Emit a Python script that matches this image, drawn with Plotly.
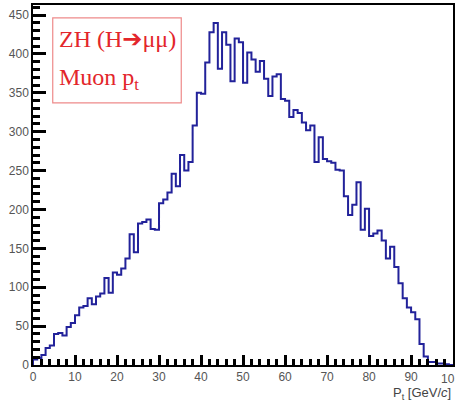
import plotly.graph_objects as go

# Muon transverse momentum histogram, 1 GeV/c bins from 0 to 100
bin_low = 0
bin_width = 1
counts = [
    7, 9, 13, 22, 25, 40, 41, 38, 49, 54,
    64, 74, 76, 86, 78, 88, 92, 112, 93, 119,
    116, 124, 137, 168, 145, 182, 184, 187, 175, 174,
    208, 213, 222, 246, 230, 270, 250, 261, 308, 350,
    349, 389, 428, 440, 381, 428, 412, 365, 420, 415,
    363, 402, 393, 377, 391, 368, 346, 371, 374, 342,
    340, 319, 328, 324, 312, 302, 308, 261, 293, 265,
    262, 260, 251, 250, 217, 193, 206, 235, 174, 201,
    166, 169, 173, 160, 137, 152, 126, 105, 86, 74,
    68, 59, 27, 11, 4, 4, 2, 2, 1, 0,
]
x_major_step = 10
x_minor_step = 2
y_major_step = 50
y_minor_step = 10
x_last_label = "10"

# Bin edges; the outline drops to zero at both ends like a ROOT histogram
edges = [bin_low + i * bin_width for i in range(len(counts) + 1)]
step_x = [edges[0]] + edges + [edges[-1]]
step_y = [0] + counts + [counts[-1], 0]

fig = go.Figure()
fig.add_trace(go.Scatter(
    x=step_x, y=step_y,
    mode="lines",
    line=dict(color="#22229a", width=2, shape="hv"),
    hoverinfo="skip",
    showlegend=False,
))

axis_font = dict(family="Liberation Sans, Arial, sans-serif", size=12, color="#555555")

fig.update_xaxes(
    range=[0, 99.98],
    dtick=x_major_step,
    ticks="inside", ticklen=10, tickwidth=3, tickcolor="black",
    minor=dict(dtick=x_minor_step, ticks="inside", ticklen=6, tickwidth=2.5, tickcolor="black"),
    showline=True, linecolor="black", linewidth=1.5, mirror=True,
    showgrid=False, zeroline=False, tickfont=axis_font,
)
fig.update_yaxes(
    range=[0, 463],
    dtick=y_major_step,
    ticks="inside", ticklen=13, tickwidth=3, tickcolor="black",
    minor=dict(dtick=y_minor_step, ticks="inside", ticklen=7, tickwidth=2.5, tickcolor="black"),
    showline=True, linecolor="black", linewidth=1.5, mirror=True,
    showgrid=False, zeroline=False, tickfont=axis_font,
)

# label of the last x tick, clipped by the right edge of the canvas
fig.add_annotation(
    xref="paper", yref="paper", x=1.0085, y=-0.014, xanchor="right", yanchor="top",
    text=x_last_label, showarrow=False, font=axis_font,
)

red = "#e3262b"
serif = "Liberation Serif, Times New Roman, serif"

fig.add_shape(
    type="rect", xref="paper", yref="paper",
    x0=0.047, x1=0.353, y0=0.728, y1=0.964,
    line=dict(color="#ee8a8a", width=1.2), fillcolor="white",
)
fig.add_annotation(
    xref="paper", yref="paper", x=0.058, y=0.905, xanchor="left", yanchor="middle",
    text="ZH (H<span style=\"font-family:DejaVu Sans\">➔</span>μμ)", showarrow=False,
    font=dict(family=serif, size=24, color=red),
)
fig.add_annotation(
    xref="paper", yref="paper", x=0.058, y=0.795, xanchor="left", yanchor="middle",
    text="Muon p<sub>t</sub>", showarrow=False,
    font=dict(family=serif, size=24, color=red),
)
fig.add_annotation(
    xref="paper", yref="paper", x=1.0, y=-0.05, xanchor="right", yanchor="top",
    text="P<sub>t</sub> [GeV/<i>c</i>]", showarrow=False,
    font=dict(family="Liberation Sans, Arial, sans-serif", size=13, color="#444444"),
)

fig.update_layout(
    width=458, height=403,
    margin=dict(l=33, r=3, t=5, b=38),
    paper_bgcolor="white", plot_bgcolor="white",
)

fig.write_html("out.html")
